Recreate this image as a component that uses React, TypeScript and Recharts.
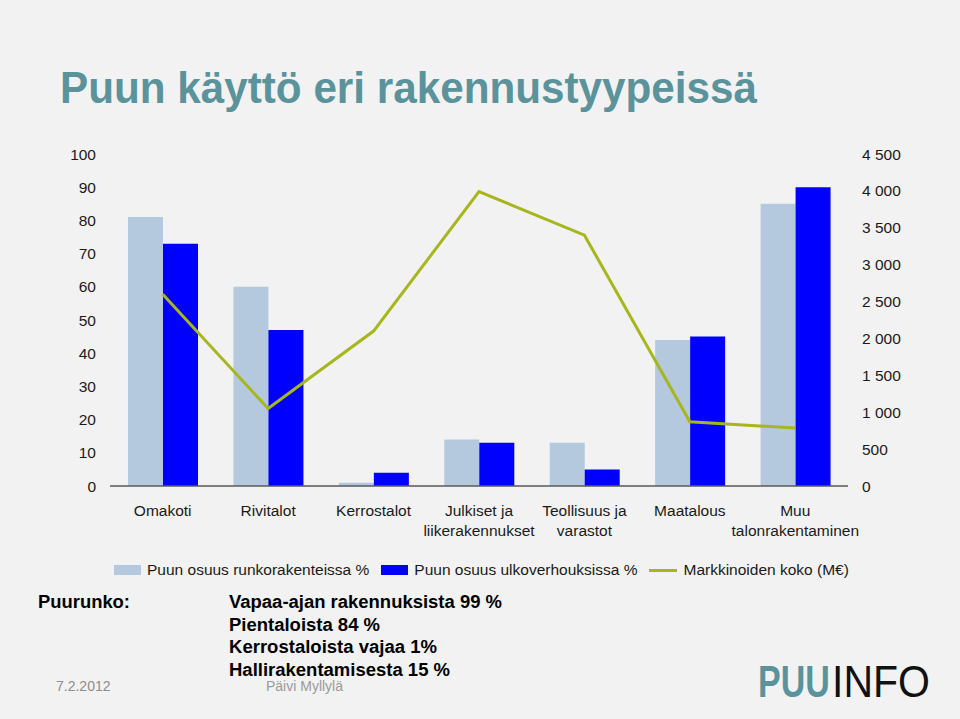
import React from 'react';
import { ComposedChart, Bar, Line, XAxis, YAxis, Legend } from 'recharts';

const categories = [
  'Omakoti',
  'Rivitalot',
  'Kerrostalot',
  'Julkiset ja\nliikerakennukset',
  'Teollisuus ja\nvarastot',
  'Maatalous',
  'Muu\ntalonrakentaminen',
];
const frameShare = [81, 60, 1, 14, 13, 44, 85];
const claddingShare = [73, 47, 4, 13, 5, 45, 90];
const marketSize = [2600, 1050, 2100, 3990, 3400, 870, 785];
const leftTicks = [0, 10, 20, 30, 40, 50, 60, 70, 80, 90, 100];
const rightTicks = [0, 500, 1000, 1500, 2000, 2500, 3000, 3500, 4000, 4500];

const legendItems = [
  { label: 'Puun osuus runkorakenteissa %', color: '#b4c9de', kind: 'box' },
  { label: 'Puun osuus ulkoverhouksissa %', color: '#0000ff', kind: 'box' },
  { label: 'Markkinoiden koko (M€)', color: '#a8b61e', kind: 'line' },
];

// footnote lines and their measured widths in the slide
const notes = [
  'Vapaa-ajan rakennuksista 99 %',
  'Pientaloista 84 %',
  'Kerrostaloista vajaa 1%',
  'Hallirakentamisesta 15 %',
];
const noteWidths = [273, 151, 208, 221];

const data = categories.map((name, i) => ({
  name,
  frame: frameShare[i],
  cladding: claddingShare[i],
  market: marketSize[i],
}));

const FONT = '"Liberation Sans", Arial, sans-serif';

const fmtSpace = (v: number) => String(v).replace(/\B(?=(\d{3})+(?!\d))/g, ' ');

const CategoryTick = (props: any) => {
  const { x, y, payload } = props;
  const lines = String(payload.value).split('\n');
  return (
    <text x={x} y={y} textAnchor="middle" fill="#1a1a1a" fontSize={15.5} fontFamily={FONT}>
      {lines.map((l, i) => (
        <tspan key={i} x={x} y={y + 22 + i * 19.5}>{l}</tspan>
      ))}
    </text>
  );
};

const renderLegend = () => (
  <div style={{ display: 'flex', alignItems: 'center', fontFamily: FONT, fontSize: 15.5, color: '#1a1a1a', paddingLeft: 114 }}>
    {legendItems.map((it, i) => (
      <div key={i} style={{ display: 'flex', alignItems: 'center', marginRight: 12 }}>
        {it.kind === 'box'
          ? <div style={{ width: 27, height: 10, background: it.color, marginRight: 6 }} />
          : <div style={{ width: 28, height: 3, background: it.color, marginRight: 6 }} />}
        <span>{it.label}</span>
      </div>
    ))}
  </div>
);

export default function App() {
  return (
    <div style={{ position: 'absolute', left: 0, top: 0, width: 960, height: 719, background: '#f2f2f2', overflow: 'hidden' }}>
      <ComposedChart
        width={960}
        height={719}
        data={data}
        margin={{ top: 154, right: 0, bottom: 193, left: 0 }}
        barGap={0}
      >
        <XAxis
          dataKey="name"
          interval={0}
          tickLine={false}
          axisLine={{ stroke: '#595959', strokeWidth: 1.5 }}
          tick={<CategoryTick />}
          height={40}
        />
        <YAxis
          yAxisId="left"
          domain={[0, 100]}
          ticks={leftTicks}
          axisLine={false}
          tickLine={false}
          tickMargin={8}
          width={110}
          tick={{ fill: '#1a1a1a', fontSize: 15.5, fontFamily: FONT }}
        />
        <YAxis
          yAxisId="right"
          orientation="right"
          domain={[0, 4500]}
          ticks={rightTicks}
          axisLine={false}
          tickLine={false}
          tickMargin={8}
          width={112}
          tickFormatter={fmtSpace}
          tick={{ fill: '#1a1a1a', fontSize: 15.5, fontFamily: FONT }}
        />
        <Legend
          verticalAlign="middle"
          align="center"
          layout="horizontal"
          content={renderLegend}
          wrapperStyle={{ top: 561, left: 0, width: 960 }}
        />
        <Bar yAxisId="left" dataKey="frame" name="Puun osuus runkorakenteissa %" fill="#b4c9de" barSize={35} isAnimationActive={false} />
        <Bar yAxisId="left" dataKey="cladding" name="Puun osuus ulkoverhouksissa %" fill="#0000ff" barSize={35} isAnimationActive={false} />
        <Line
          yAxisId="right"
          type="linear"
          dataKey="market"
          name="Markkinoiden koko (M€)"
          stroke="#a8b61e"
          strokeWidth={3}
          dot={false}
          activeDot={false}
          isAnimationActive={false}
        />
      </ComposedChart>

      <svg width={960} height={719} style={{ position: 'absolute', left: 0, top: 0, pointerEvents: 'none' }}>
        <text x={60} y={103} fill="#5b939c" fontFamily={FONT} fontWeight="bold" fontSize={44} textLength={697} lengthAdjust="spacingAndGlyphs">
          Puun käyttö eri rakennustyypeissä
        </text>

        <text x={38} y={608} fill="#000" fontFamily={FONT} fontWeight="bold" fontSize={18} textLength={92} lengthAdjust="spacingAndGlyphs">
          Puurunko:
        </text>
        {notes.map((n, i) => (
          <text key={i} x={229} y={608 + i * 22.6} fill="#000" fontFamily={FONT} fontWeight="bold" fontSize={18}
            textLength={noteWidths[i]} lengthAdjust="spacingAndGlyphs">
            {n}
          </text>
        ))}

        <text x={56} y={691} fill="#8c8c8c" fontFamily={FONT} fontSize={14}>7.2.2012</text>
        <text x={266} y={691} fill="#9a9a9a" fontFamily={FONT} fontSize={14}>Päivi Myllylä</text>

        {/* logo: narrow font size, stretched tall so the halves sit flush */}
        <g transform="translate(758 697) scale(1 1.29)">
          <text x={0} y={0} fill="#5b939c" fontFamily={FONT} fontWeight="bold" fontSize={34}>PUU</text>
        </g>
        <g transform="translate(832 697) scale(1 1.07)">
          <text x={0} y={0} fill="#111" fontFamily={FONT} fontSize={41}>INFO</text>
        </g>
      </svg>
    </div>
  );
}
